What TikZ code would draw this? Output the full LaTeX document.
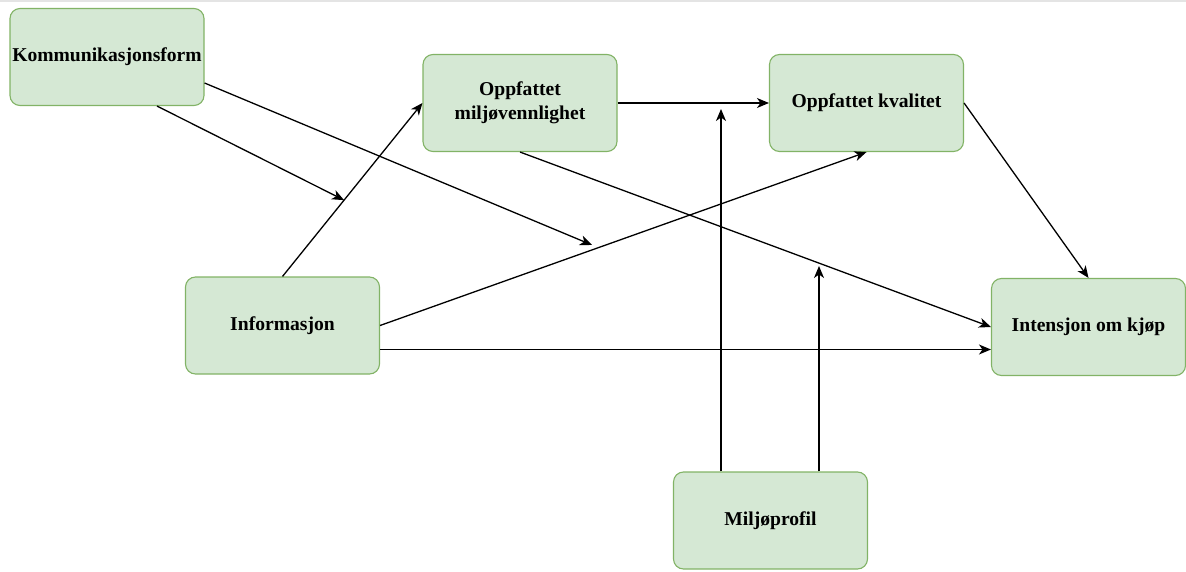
\documentclass[tikz,border=0pt]{standalone}
\usepackage{fontspec}
\setmainfont{Liberation Serif}
\usetikzlibrary{arrows.meta}
\definecolor{boxfill}{HTML}{D5E8D4}
\definecolor{boxline}{HTML}{82B366}
\definecolor{topline}{HTML}{E4E4E4}
\begin{document}
\begin{tikzpicture}[x=1pt,y=-1pt,
  box/.style={draw=boxline, fill=boxfill, line width=1.1pt, rounded corners=10pt,
    minimum width=194pt, minimum height=97pt, inner sep=2pt, align=center,
    font=\fontsize{19.6}{24}\selectfont\bfseries},
  arr/.style={draw=black, line width=1.3pt, -{Stealth[length=12pt,width=10pt,inset=3.5pt]}}]
  \useasboundingbox (0,0) rectangle (1186,572);
  % thin rule along the top edge
  \draw[topline, line width=1.6pt] (0,0.8) -- (1186,0.8);

  % variables
  \node[box] (kf)   at (107,57)     {Kommunikasjonsform};
  \node[box] (omv)  at (520,103)    {Oppfattet\\miljøvennlighet};
  \node[box] (kval) at (866.5,103)  {Oppfattet kvalitet};
  \node[box] (info) at (282.5,325.5){Informasjon};
  \node[box] (int)  at (1088.5,327) {Intensjon om kjøp};
  \node[box] (mp)   at (770.5,520.5){Miljøprofil};

  % direct effects
  \draw[arr] (info.north) -- (omv.west);
  \draw[arr] (info.east) -- (kval.south);
  \draw[arr] ([yshift=-24pt]info.east) coordinate (i5) -- (i5 -| int.west);
  \draw[arr] (omv.east) -- (kval.west);
  \draw[arr] (omv.south) -- (int.west);
  \draw[arr] (kval.east) -- (int.north);

  % moderating effects onto paths
  \path (info.north) -- (omv.west) coordinate[pos=0.44] (m1);
  \coordinate (m2) at (592,245);
  \coordinate (m3) at (721,109);
  \coordinate (m4) at (819,266);
  \draw[arr] ([xshift=50pt]kf.south) -- (m1);
  \draw[arr] ([yshift=-26pt]kf.east) -- (m2);
  \draw[arr] ([xshift=-49.5pt]mp.north) -- (m3);
  \draw[arr] ([xshift=48.5pt]mp.north) -- (m4);
\end{tikzpicture}
\end{document}
